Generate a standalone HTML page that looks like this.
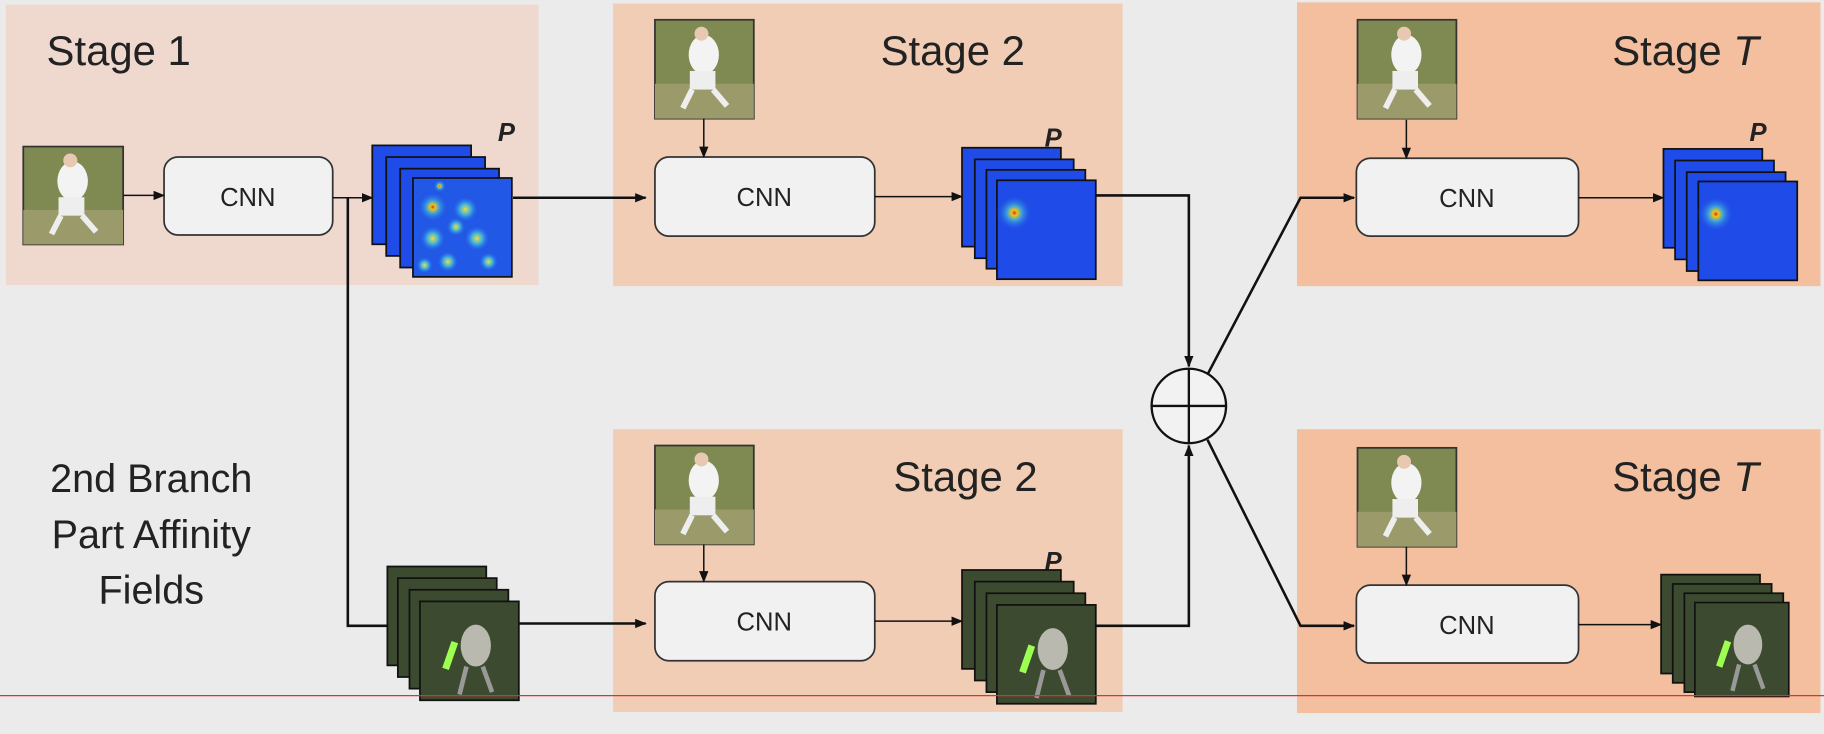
<!DOCTYPE html>
<html><head><meta charset="utf-8"><style>
html,body{margin:0;padding:0;background:#ebebeb;}
svg{display:block;}
text{font-family:"Liberation Sans",sans-serif;fill:#222;}
</style></head><body>
<svg width="1824" height="734" viewBox="0 0 1568 631" xmlns="http://www.w3.org/2000/svg">
<defs>
<marker id="ar" markerWidth="10" markerHeight="8" refX="9" refY="4" orient="auto" markerUnits="userSpaceOnUse"><path d="M0,0 L10,4 L0,8 z" fill="#111"/></marker>
<radialGradient id="hot" cx="0.5" cy="0.5" r="0.5"><stop offset="0" stop-color="#c0392b"/><stop offset="0.15" stop-color="#f1c40f"/><stop offset="0.4" stop-color="#3aa0e0"/><stop offset="1" stop-color="#1a3ee8" stop-opacity="0"/></radialGradient>
<radialGradient id="warm" cx="0.5" cy="0.5" r="0.5"><stop offset="0" stop-color="#e8e040"/><stop offset="0.4" stop-color="#40b0e0"/><stop offset="1" stop-color="#1a3ee8" stop-opacity="0"/></radialGradient>
<g id="photo"><rect width="85" height="85" fill="#7e8a52" stroke="#333" stroke-width="1.5"/><rect x="0" y="55" width="85" height="30" fill="#9a9a6a"/><ellipse cx="42" cy="30" rx="13" ry="17" fill="#f3f3f3"/><circle cx="40" cy="12" r="6" fill="#e8c8b0"/><rect x="30" y="44" width="22" height="16" fill="#eee"/><path d="M32,60 L24,76 M50,60 L62,74" stroke="#eee" stroke-width="5"/></g>
<g id="heat1"><rect width="85" height="85" fill="#1f4be8" stroke="#111" stroke-width="1.5"/></g>
<g id="paf"><rect width="85" height="85" fill="#3c4a30" stroke="#111" stroke-width="1.5"/></g>
<g id="pafTop"><rect width="85" height="85" fill="#3c4a30" stroke="#111" stroke-width="1.5"/><ellipse cx="48" cy="38" rx="13" ry="18" fill="#b9b9b0"/><path d="M30,35 L22,58" stroke="#9dff50" stroke-width="6"/><path d="M40,56 L34,80 M54,56 L62,78" stroke="#999" stroke-width="4"/></g>
</defs>
<rect width="1568" height="631" fill="#ebebeb"/>
<rect x="5" y="4" width="458" height="241" fill="#efd9cf"/>
<rect x="527" y="3" width="438" height="243" fill="#f2cdb5"/>
<rect x="1115" y="2" width="450" height="244" fill="#f3bf9f"/>
<rect x="527" y="369" width="438" height="243" fill="#f2cdb5"/>
<rect x="1115" y="369" width="450" height="244" fill="#f3bf9f"/>
<text x="40" y="56" font-size="36">Stage 1</text>
<text x="757" y="56" font-size="36">Stage 2</text>
<text x="1386" y="56" font-size="36">Stage <tspan font-style="italic">T</tspan></text>
<text x="768" y="422" font-size="36">Stage 2</text>
<text x="1386" y="422" font-size="36">Stage <tspan font-style="italic">T</tspan></text>
<text x="130" y="423" font-size="34" text-anchor="middle">2nd Branch</text>
<text x="130" y="471" font-size="34" text-anchor="middle">Part Affinity</text>
<text x="130" y="519" font-size="34" text-anchor="middle">Fields</text>
<use href="#photo" transform="translate(20,126) scale(1.01,0.99)"/>
<use href="#photo" x="563" y="17"/>
<use href="#photo" x="1167" y="17"/>
<use href="#photo" x="563" y="383"/>
<use href="#photo" x="1167" y="385"/>
<g stroke="#333" stroke-width="1.5" fill="#f1f1f1">
<rect x="141" y="135" width="145" height="67" rx="12"/>
<rect x="563" y="135" width="189" height="68" rx="12"/>
<rect x="1166" y="136" width="191" height="67" rx="12"/>
<rect x="563" y="500" width="189" height="68" rx="12"/>
<rect x="1166" y="503" width="191" height="67" rx="12"/>
</g>
<g font-size="22" text-anchor="middle"><text x="213" y="177">CNN</text><text x="657" y="177">CNN</text><text x="1261" y="178">CNN</text><text x="657" y="542">CNN</text><text x="1261" y="545">CNN</text></g>
<g><use href="#heat1" x="320" y="125"/><use href="#heat1" x="332" y="135"/><use href="#heat1" x="344" y="145"/><rect x="355" y="153" width="85" height="85" fill="#2258e6" stroke="#111" stroke-width="1.5"/>
<circle cx="372" cy="178" r="14" fill="url(#hot)"/><circle cx="378" cy="160" r="6" fill="url(#hot)"/>
<circle cx="372" cy="205" r="12" fill="url(#warm)"/><circle cx="400" cy="180" r="12" fill="url(#warm)"/><circle cx="410" cy="205" r="12" fill="url(#warm)"/><circle cx="385" cy="225" r="10" fill="url(#warm)"/><circle cx="420" cy="225" r="9" fill="url(#warm)"/><circle cx="392" cy="195" r="9" fill="url(#warm)"/><circle cx="365" cy="228" r="8" fill="url(#warm)"/></g>
<g><use href="#heat1" x="827" y="127"/><use href="#heat1" x="838" y="137"/><use href="#heat1" x="848" y="146"/><rect x="857" y="155" width="85" height="85" fill="#1f4be8" stroke="#111" stroke-width="1.5"/><circle cx="872" cy="183" r="16" fill="url(#hot)"/></g>
<g><use href="#heat1" x="1430" y="128"/><use href="#heat1" x="1440" y="138"/><use href="#heat1" x="1450" y="148"/><rect x="1460" y="156" width="85" height="85" fill="#1f4be8" stroke="#111" stroke-width="1.5"/><circle cx="1475" cy="184" r="16" fill="url(#hot)"/></g>
<g font-size="22" font-weight="bold" font-style="italic"><text x="428" y="121">P</text><text x="898" y="126">P</text><text x="1504" y="121">P</text><text x="898" y="490">P</text></g>
<g><use href="#paf" x="333" y="487"/><use href="#paf" x="342" y="497"/><use href="#paf" x="352" y="507"/><use href="#pafTop" x="361" y="517"/></g>
<g><use href="#paf" x="827" y="490"/><use href="#paf" x="838" y="500"/><use href="#paf" x="848" y="510"/><use href="#pafTop" x="857" y="520"/></g>
<g><use href="#paf" x="1428" y="494"/><use href="#paf" x="1438" y="502"/><use href="#paf" x="1448" y="510"/><use href="#pafTop" x="1457" y="518" transform="translate(1457,518) scale(0.95) translate(-1457,-518)"/></g>
<g stroke="#111" fill="none" stroke-width="1.3" marker-end="url(#ar)">
<line x1="106" y1="168" x2="141" y2="168"/>
<line x1="286" y1="170" x2="320" y2="170"/>
<line x1="605" y1="102" x2="605" y2="135"/>
<line x1="1209" y1="103" x2="1209" y2="136"/>
<line x1="605" y1="468" x2="605" y2="500"/>
<line x1="1209" y1="470" x2="1209" y2="503"/>
<line x1="752" y1="169" x2="827" y2="169"/>
<line x1="1357" y1="170" x2="1430" y2="170"/>
<line x1="752" y1="534" x2="827" y2="534"/>
<line x1="1357" y1="537" x2="1428" y2="537"/>
</g>
<g stroke="#111" fill="none" stroke-width="2.2">
<line x1="441" y1="170" x2="555" y2="170" marker-end="url(#ar)"/>
<polyline points="299,170 299,538 333,538"/>
<polyline points="446,536 555,536" marker-end="url(#ar)"/>
<polyline points="942,168 1022,168 1022,315" marker-end="url(#ar)"/>
<polyline points="942,538 1022,538 1022,383" marker-end="url(#ar)"/>
<polyline points="1038,322 1118,170 1164,170" marker-end="url(#ar)"/>
<polyline points="1038,378 1118,538 1164,538" marker-end="url(#ar)"/>
</g>
<circle cx="1022" cy="349" r="32" fill="#f2f2f2" stroke="#111" stroke-width="2"/>
<line x1="990" y1="349" x2="1054" y2="349" stroke="#111" stroke-width="2"/>
<line x1="1022" y1="317" x2="1022" y2="381" stroke="#111" stroke-width="2"/>
<line x1="0" y1="598" x2="1568" y2="598" stroke="#e03030" stroke-width="1"/>
</svg>
</body></html>
